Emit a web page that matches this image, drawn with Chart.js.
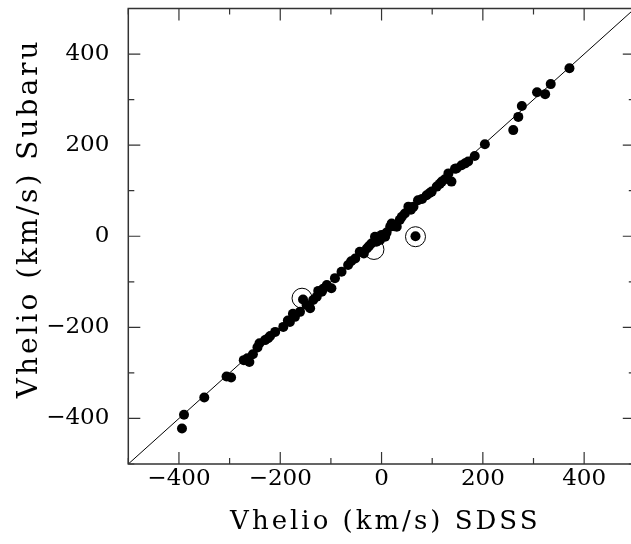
<!DOCTYPE html>
<html>
<head>
<meta charset="utf-8">
<title>Vhelio Subaru vs SDSS</title>
<script src="https://cdn.jsdelivr.net/npm/chart.js@4"></script>
<style>
  html, body { margin: 0; padding: 0; background: #fff; overflow: hidden; }
</style>
</head>
<body>
<canvas id="velChart" width="631" height="544"></canvas>
<script>
// velocities (km/s)
const sdssVel = [
  -394, -390, -350, -306, -297, -272, -265, -261, -254, -245,
  -241, -230, -224, -220, -210, -194, -185, -181, -175, -171,
  -161, -155, -148, -141, -135, -128, -125, -118, -115, -108,
  -99, -92, -79, -66, -60, -52, -43, -35, -29, -25,
  -20, -13, -10, -3, 0, 7, 10, 17, 20, 25,
  30, 36, 40, 46, 53, 58, 63, 67, 72, 80,
  89, 95, 99, 109, 115, 119, 125, 132, 138, 145,
  148, 158, 165, 171, 184, 204, 260, 270, 277, 307,
  323, 334, 371
];
const subaruVel = [
  -422, -392, -354, -308, -310, -272, -268, -276, -259, -244,
  -235, -228, -224, -219, -210, -199, -185, -188, -170, -177,
  -166, -139, -151, -158, -140, -133, -120, -122, -115, -107,
  -114, -92, -78, -63, -55, -49, -34, -38, -27, -22,
  -16, -1, -12, -8, 3, -1, 8, 21, 28, 22,
  21, 36, 43, 50, 65, 58, 65, 0, 79, 82,
  90, 95, 98, 109, 115, 120, 125, 138, 120, 148,
  149, 156, 160, 164, 176, 202, 233, 262, 286, 316,
  312, 334, 369
];
// flagged objects (open circles)
const flagSdss = [-157, -15, 67];
const flagSubaru = [-136, -29, -1];
// one-to-one line
const lineEnds = [-500, 500];

// axis ticks: every 100, labelled every 200
const tickVals = [-500, -400, -300, -200, -100, 0, 100, 200, 300, 400, 500];
const labelVals = [-400, -200, 0, 200, 400];

const axisMin = -500;
const axisMax = 500;
const xViewMax = 492.5;   // the right edge of the box falls just outside the picture

const serif = "'DejaVu Serif', serif";
const nb = "\u00a0";

const points = sdssVel.map((v, i) => ({ x: v, y: subaruVel[i] }));
const flagged = flagSdss.map((v, i) => ({ x: v, y: flagSubaru[i] }));
const oneToOne = lineEnds.map((v) => ({ x: v, y: v }));

function tickLabel(v) {
  if (!labelVals.includes(v)) return "";
  return v < 0 ? "\u2212" + Math.abs(v) : String(v);
}

function noPadding(s) {
  s.paddingTop = 0;
  s.paddingBottom = 0;
  s.paddingLeft = 0;
  s.paddingRight = 0;
}

function fixedTicks(s) {
  s.ticks = tickVals.filter((v) => v >= s.min && v <= s.max).map((v) => ({ value: v }));
}

// box frame with inward ticks on all four sides
const frameTicks = {
  id: "frameTicks",
  beforeDraw(chart) {
    chart.ctx.letterSpacing = "3px";
  },
  beforeDatasetsDraw(chart) {
    chart.ctx.letterSpacing = "0px";
  },
  afterDraw(chart) {
    const { ctx, chartArea: a, scales } = chart;
    const right = scales.x.getPixelForValue(axisMax);
    ctx.save();
    ctx.strokeStyle = "#333";
    ctx.lineWidth = 1.5;
    ctx.strokeRect(a.left, a.top, right - a.left, a.bottom - a.top);
    ctx.lineWidth = 1.2;
    ctx.beginPath();
    tickVals.forEach((v) => {
      const len = labelVals.includes(v) ? 12 : 6;
      const px = scales.x.getPixelForValue(v);
      ctx.moveTo(px, a.bottom); ctx.lineTo(px, a.bottom - len);
      ctx.moveTo(px, a.top); ctx.lineTo(px, a.top + len);
      const py = scales.y.getPixelForValue(v);
      ctx.moveTo(a.left, py); ctx.lineTo(a.left + len, py);
      ctx.moveTo(right, py); ctx.lineTo(right - len, py);
    });
    ctx.stroke();
    ctx.restore();
  },
};

new Chart(document.getElementById("velChart"), {
  type: "scatter",
  data: {
    datasets: [
      {
        label: "1:1",
        type: "line",
        data: oneToOne,
        borderColor: "#000",
        borderWidth: 1,
        pointRadius: 0,
        fill: false,
      },
      {
        label: "stars",
        data: points,
        backgroundColor: "#000",
        borderColor: "#000",
        borderWidth: 0,
        pointRadius: 5,
      },
      {
        label: "flagged",
        data: flagged,
        backgroundColor: "rgba(0,0,0,0)",
        borderColor: "#000",
        borderWidth: 1,
        pointRadius: 10,
      },
    ],
  },
  options: {
    responsive: false,
    animation: false,
    layout: { autoPadding: false, padding: { top: 8.5, right: 0, left: 0, bottom: 0 } },
    plugins: {
      legend: { display: false },
      tooltip: { enabled: false },
    },
    scales: {
      x: {
        type: "linear",
        min: axisMin,
        max: xViewMax,
        afterBuildTicks: fixedTicks,
        afterFit: (s) => { s.height = 80; noPadding(s); },
        grid: { display: false, drawTicks: false },
        border: { display: false },
        ticks: {
          autoSkip: false,
          maxRotation: 0,
          padding: 1,
          z: 1,
          color: "#000",
          font: { family: serif, size: 23 },
          callback: tickLabel,
        },
        title: {
          display: true,
          text: nb + "Vhelio (km/s) SDSS",
          color: "#000",
          font: { family: serif, size: 26 },
          padding: { top: 0, bottom: 6 },
        },
      },
      y: {
        type: "linear",
        min: axisMin,
        max: axisMax,
        afterBuildTicks: fixedTicks,
        afterFit: (s) => { s.width = 128.3; noPadding(s); },
        grid: { display: false, drawTicks: false },
        border: { display: false },
        ticks: {
          autoSkip: false,
          padding: 19,
          z: 1,
          color: "#000",
          font: { family: serif, size: 23 },
          callback: tickLabel,
        },
        title: {
          display: true,
          text: nb + nb + nb + "Vhelio (km/s) Subaru",
          color: "#000",
          font: { family: serif, size: 28 },
          padding: { top: 13, bottom: 0 },
        },
      },
    },
  },
  plugins: [frameTicks],
});
</script>
</body>
</html>
